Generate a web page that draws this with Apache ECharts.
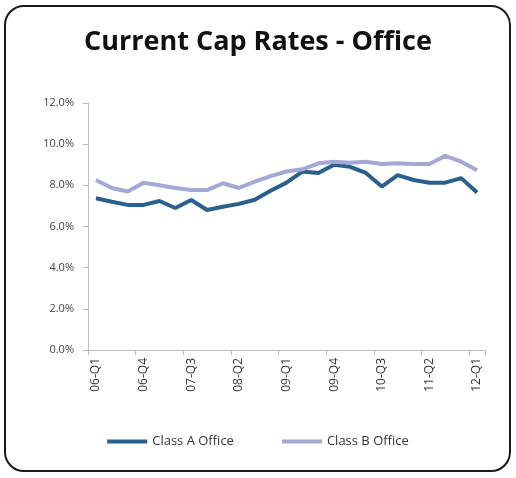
<!DOCTYPE html>
<html>
<head>
<meta charset="utf-8">
<script src="https://cdn.jsdelivr.net/npm/echarts@6/dist/echarts.min.js"></script>
<style>
html,body{margin:0;padding:0;background:#fff;}
#wrap{position:absolute;left:4px;top:5px;width:507px;height:467px;border:2px solid #1a1a1a;border-radius:20px;box-sizing:border-box;}
#chart{position:absolute;left:0;top:0;width:516px;height:478px;}
</style>
</head>
<body>
<div id="wrap"></div>
<div id="chart"></div>
<script>
const quarters = ['06-Q1','06-Q2','06-Q3','06-Q4','07-Q1','07-Q2','07-Q3','07-Q4','08-Q1','08-Q2','08-Q3','08-Q4','09-Q1','09-Q2','09-Q3','09-Q4','10-Q1','10-Q2','10-Q3','10-Q4','11-Q1','11-Q2','11-Q3','11-Q4','12-Q1'];
const classA = [7.37,7.2,7.05,7.05,7.24,6.9,7.29,6.8,6.96,7.1,7.3,7.74,8.13,8.67,8.6,9.0,8.9,8.6,7.94,8.5,8.26,8.13,8.13,8.35,7.65];
const classB = [8.26,7.87,7.7,8.13,8.0,7.87,7.77,7.77,8.1,7.87,8.18,8.45,8.67,8.78,9.07,9.15,9.1,9.15,9.04,9.07,9.04,9.04,9.43,9.15,8.73];
const seriesNames = ['Class A Office','Class B Office'];

const chart = echarts.init(document.getElementById('chart'));
chart.setOption({
  animation:false,
  title:{text:'Current Cap Rates - Office',left:'center',top:24,
    textStyle:{fontFamily:'Open Sans',fontWeight:'bold',fontSize:27,color:'#111'}},
  grid:{left:88,right:31,top:103,bottom:128},
  xAxis:{type:'category',data:quarters,boundaryGap:true,
    axisLine:{lineStyle:{color:'#bbb'}},
    axisTick:{show:true,interval:2,lineStyle:{color:'#bbb'}},
    axisLabel:{interval:2,rotate:90,fontFamily:'Open Sans',fontSize:12,color:'#333',margin:8}},
  yAxis:{type:'value',min:0,max:12,interval:2,
    axisLine:{show:true,lineStyle:{color:'#bbb'}},
    axisTick:{show:true,inside:false,lineStyle:{color:'#bbb'}},
    splitLine:{show:false},
    axisLabel:{formatter:v=>v.toFixed(1)+'%',fontFamily:'Open Sans',fontSize:11,color:'#444',margin:14}},
  legend:{bottom:25,left:'center',itemGap:48,itemWidth:40,itemHeight:4,icon:'rect',
    textStyle:{fontFamily:'Open Sans',fontSize:13,color:'#333'},data:seriesNames},
  series:[
    {name:seriesNames[0],type:'line',data:classA,showSymbol:false,lineStyle:{color:'#2A5F8E',width:4},itemStyle:{color:'#2A5F8E'}},
    {name:seriesNames[1],type:'line',data:classB,showSymbol:false,lineStyle:{color:'#A3A8D4',width:4},itemStyle:{color:'#A3A8D4'}}
  ]
});
</script>
</body>
</html>
